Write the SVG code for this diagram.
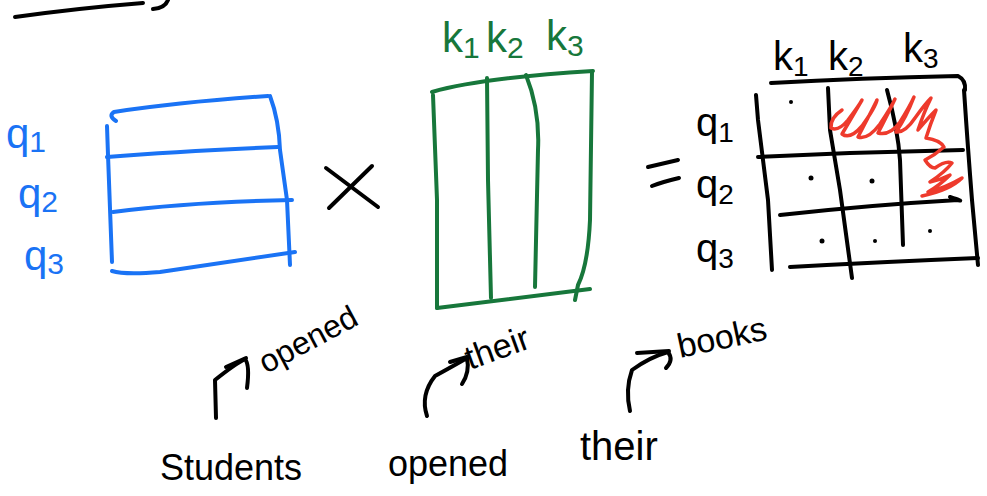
<svg xmlns="http://www.w3.org/2000/svg" width="987" height="496" viewBox="0 0 987 496">
<style>
.k{fill:none;stroke:#000;stroke-width:4;stroke-linecap:round;stroke-linejoin:round}
.b{fill:none;stroke:#1a73f5;stroke-width:4;stroke-linecap:round;stroke-linejoin:round}
.g{fill:none;stroke:#17773b;stroke-width:4;stroke-linecap:round;stroke-linejoin:round}
.r{fill:none;stroke:#ee3a2c;stroke-width:3.5;stroke-linecap:round;stroke-linejoin:round}
.d{fill:#000}
.tk{font-family:"Liberation Sans",sans-serif;fill:#000}
.tb{font-family:"Liberation Sans",sans-serif;fill:#1a73f5}
.tg{font-family:"Liberation Sans",sans-serif;fill:#17773b}
</style>
<rect width="987" height="496" fill="#fff"/>
<g id="topline">
<path class="k" d="M15,17 Q80,8 143,3"/>
<path class="k" d="M153,9 Q165,8 168,0"/>
</g>
<g id="matrix-q">
<path class="b" d="M116,121 Q108,116 114,112 Q180,102 268,96"/>
<path class="b" d="M107,126 L108,155 L112,262"/>
<path class="b" d="M270,96 Q279,120 280,150 L287,200 L290,265"/>
<path class="b" d="M107,157 Q180,151 278,147"/>
<path class="b" d="M113,212 Q190,202 292,200"/>
<path class="b" d="M112,271 Q125,275 160,272 L295,252"/>
<text class="tb" x="6" y="148" font-size="42">q<tspan font-size="30" dy="4">1</tspan></text>
<text class="tb" x="18" y="208" font-size="42">q<tspan font-size="30" dy="4">2</tspan></text>
<text class="tb" x="24" y="270" font-size="42">q<tspan font-size="30" dy="4">3</tspan></text>
</g>
<g id="times">
<path class="k" d="M326,168 L378,207"/>
<path class="k" d="M372,166 L329,208"/>
</g>
<g id="matrix-k">
<path class="g" d="M432,92 Q480,78 593,71"/>
<path class="g" d="M433,95 L437,200 L437,308"/>
<path class="g" d="M487,78 L488,180 L491,298"/>
<path class="g" d="M526,75 Q540,110 538,150 L535,287"/>
<path class="g" d="M592,72 L590,220 Q588,265 578,285 L575,300"/>
<path class="g" d="M437,308 Q500,300 590,289"/>
<text class="tg" x="442" y="52" font-size="42">k<tspan font-size="30" dy="6">1</tspan></text>
<text class="tg" x="486" y="52" font-size="42">k<tspan font-size="30" dy="6">2</tspan></text>
<text class="tg" x="546" y="50" font-size="42">k<tspan font-size="30" dy="6">3</tspan></text>
</g>
<g id="equals">
<path class="k" d="M648,167 L678,160"/>
<path class="k" d="M652,186 Q662,182 679,178"/>
</g>
<g id="matrix-scores">
<path class="k" d="M771,83 Q860,78 958,76 Q966,80 965,90"/>
<path class="k" d="M756,95 L758,120 L768,200 L772,270"/>
<path class="k" d="M828,88 L830,130 L840,190 L852,278"/>
<path class="k" d="M887,90 Q898,130 900,160 L903,245"/>
<path class="k" d="M964,90 Q968,150 972,200 L978,265"/>
<path class="k" d="M758,157 Q860,152 963,150"/>
<path class="k" d="M780,215 Q870,205 958,200 Q965,202 950,197"/>
<path class="k" d="M790,267 Q880,262 978,258"/>
<circle class="d" cx="791" cy="102" r="2"/>
<circle class="d" cx="811" cy="178" r="2.5"/>
<circle class="d" cx="872" cy="181" r="2.5"/>
<circle class="d" cx="822" cy="241" r="2.5"/>
<circle class="d" cx="875" cy="241" r="2"/>
<circle class="d" cx="930" cy="231" r="2"/>
<path class="r" d="M842,110 Q830,118 831,128 Q838,132 848,120 Q860,104 862,100 Q855,112 842,134 Q850,140 862,126 Q875,108 877,100 Q868,118 858,137 Q868,140 880,124 Q892,106 895,99 Q885,120 878,133 Q890,136 900,122 Q910,106 914,97 Q906,118 896,132 Q905,133 915,118 Q925,104 931,98 Q924,112 918,130 Q928,118 936,110 Q930,125 926,138 Q940,140 944,147 Q935,155 925,160 Q930,168 935,168 Q946,160 952,163 Q945,172 930,182 Q940,180 950,175 Q940,185 928,192 Q945,188 962,178 Q950,190 922,196"/>
<text class="tk" x="773" y="70" font-size="40">k<tspan font-size="28" dy="6">1</tspan></text>
<text class="tk" x="828" y="70" font-size="40">k<tspan font-size="28" dy="6">2</tspan></text>
<text class="tk" x="903" y="62" font-size="40">k<tspan font-size="28" dy="6">3</tspan></text>
<text class="tk" x="696" y="136" font-size="40">q<tspan font-size="28" dy="6">1</tspan></text>
<text class="tk" x="696" y="198" font-size="40">q<tspan font-size="28" dy="6">2</tspan></text>
<text class="tk" x="696" y="262" font-size="40">q<tspan font-size="28" dy="6">3</tspan></text>
</g>
<g id="connectors">
<path class="k" d="M216,418 L215,380 Q235,364 245,359 Q250,365 247,388"/>
<path class="k" d="M226,367 L246,358"/>
<path class="k" d="M427,416 Q420,395 435,376 Q455,365 467,358 Q470,372 462,384"/>
<path class="k" d="M450,362 L467,357"/>
<path class="k" d="M630,411 Q625,390 632,370 Q650,357 668,352 Q674,360 666,368"/>
<path class="k" d="M637,353 L669,351"/>
</g>
<g id="labels">
<text class="tk" x="266" y="374" font-size="32" transform="rotate(-28 266 374)">opened</text>
<text class="tk" x="470" y="370" font-size="34" transform="rotate(-20 470 370)">their</text>
<text class="tk" x="680" y="358" font-size="34" transform="rotate(-12 680 358)">books</text>
<text class="tk" x="160" y="480" font-size="36">Students</text>
<text class="tk" x="388" y="476" font-size="36">opened</text>
<text class="tk" x="580" y="460" font-size="40">their</text>
</g>
</svg>
